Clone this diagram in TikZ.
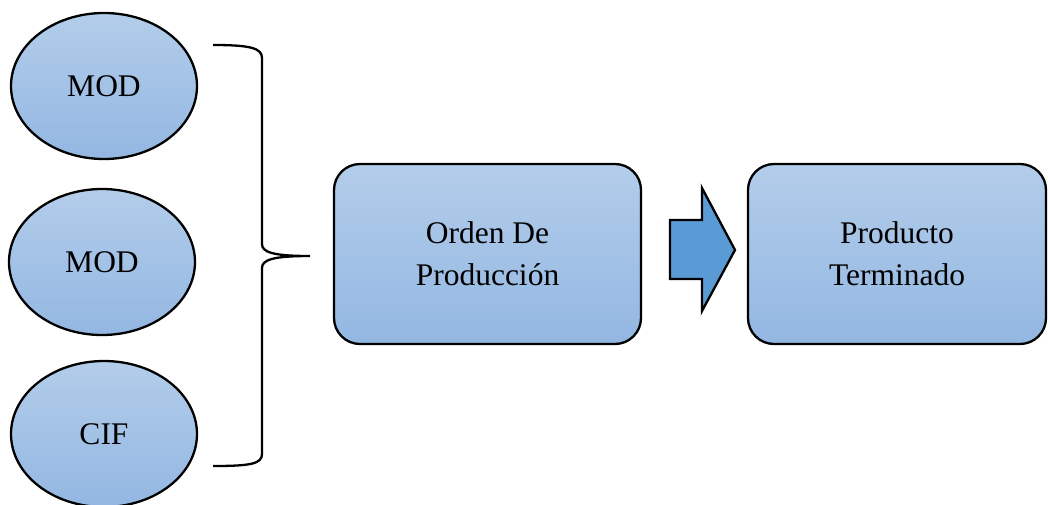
\documentclass[tikz,border=0pt]{standalone}
\usepackage{fontspec}
\setmainfont{Liberation Serif}
\usetikzlibrary{shapes.geometric}
\definecolor{fillTop}{HTML}{B3CDEA}
\definecolor{fillBot}{HTML}{93B7E2}
\definecolor{arrowBlue}{HTML}{5B9BD5}
\tikzset{
  oval/.style={ellipse, draw=black, line width=2.3pt, top color=fillTop, bottom color=fillBot,
    minimum width=186pt, minimum height=146pt, inner sep=0pt, outer sep=0pt,
    font=\fontsize{31.5}{38}\selectfont},
  rbox/.style={draw=black, line width=2.3pt, rounded corners=26pt, top color=fillTop, bottom color=fillBot,
    minimum height=180pt, inner sep=0pt, outer sep=0pt, align=center,
    font=\fontsize{31.5}{42}\selectfont},
  bracket/.style={draw=black, line width=2.3pt},
}
\begin{document}
\begin{tikzpicture}[x=1pt,y=-1pt]
\useasboundingbox (0,0) rectangle (1048,504);
\node[oval] (m1) at (104,86) {MOD};
\node[oval] (m2) at (102,262) {MOD};
\node[oval] (cif) at (104,434) {CIF};
\node[rbox, minimum width=307pt] (op) at (487.5,254) {Orden De\\Producción};
\node[rbox, minimum width=298pt] (pt) at (897,254) {Producto\\Terminado};
% brace
\coordinate (bt) at (213,45);
\coordinate (bb) at (213,466);
\coordinate (btip) at (310,256);
\path[bracket] (bt) .. controls (250,45) and (262,48) .. (262,58)
  -- (262,244) .. controls (262,252) and (272,256) .. (btip)
  (btip) .. controls (272,256) and (262,260) .. (262,268)
  -- (262,454) .. controls (262,464) and (250,466) .. (bb);
% block arrow
\draw[line width=2.3pt, fill=arrowBlue, line join=miter]
  (670,220) -- (702,220) -- (702,188) -- (735,250) -- (702,311) -- (702,279) -- (670,279) -- cycle;
\end{tikzpicture}
\end{document}
